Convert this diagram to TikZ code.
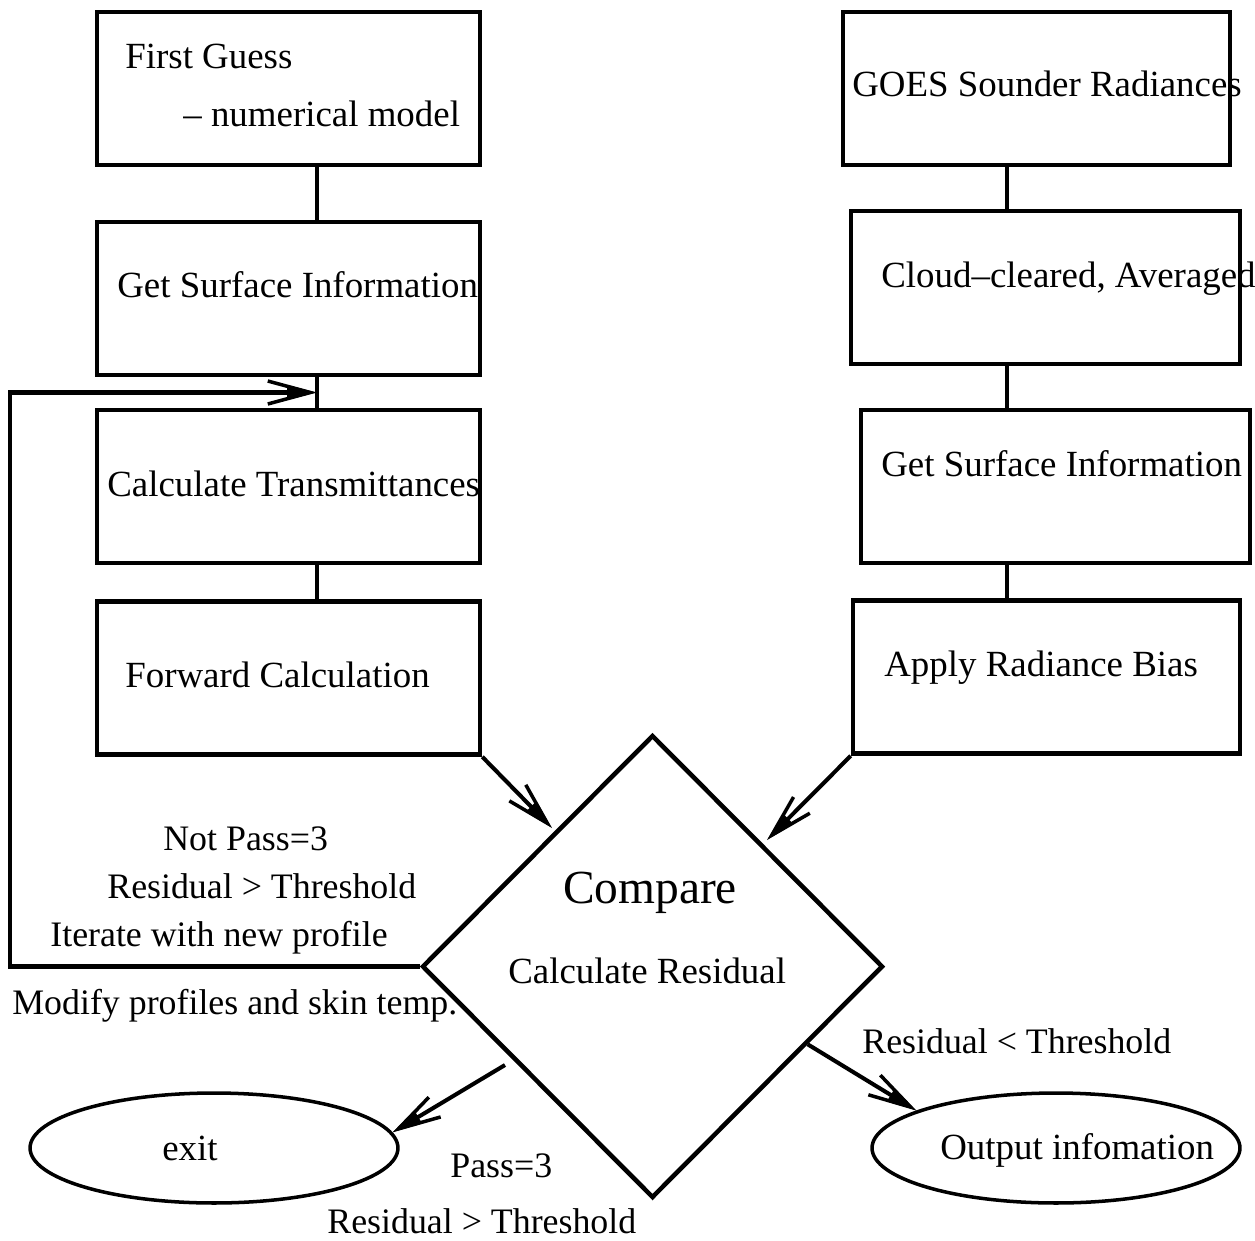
\documentclass[tikz,border=0pt]{standalone}
\usepackage{fontspec}
\setmainfont{Liberation Serif}
\usetikzlibrary{shapes.geometric,arrows.meta,calc}
\begin{document}
\begin{tikzpicture}[x=0.02cm,y=-0.02cm,
  box/.style={draw,line width=2.6pt,inner sep=0pt,minimum height=3.06cm},
  txt/.style={anchor=base west,inner sep=0pt,font=\fontsize{21}{24}\selectfont},
  lbl/.style={anchor=base west,inner sep=0pt,font=\fontsize{20.4}{24}\selectfont},
  conn/.style={line width=2.6pt},
  arr/.style={line width=2.3pt,-{Straight Barb[length=0.85cm,width=0.46cm,line width=2pt,sep=-0.6cm] Triangle[length=0.6cm,width=0.28cm]}},
  oval/.style={draw,ellipse,line width=2pt,inner sep=0pt,minimum width=7.36cm,minimum height=2.2cm},
]
\useasboundingbox (0,0) rectangle (1255,1241);
\coordinate (lx) at (317,0);
\coordinate (rx) at (1007,0);
\coordinate (lp) at (10,0);

% left column
\node[box,minimum width=7.66cm] (b1) at (288.5,88.5) {};
\node[box,minimum width=7.66cm] (b2) at (288.5,298.5) {};
\node[box,minimum width=7.66cm] (b3) at (288.5,486.5) {};
\node[box,minimum width=7.66cm] (b4) at (288.5,678) {};
% right column
\node[box,minimum width=7.74cm] (r1) at (1036.5,88.5) {};
\node[box,minimum width=7.78cm] (r2) at (1045.5,287.5) {};
\node[box,minimum width=7.78cm] (r3) at (1055.5,486.5) {};
\node[box,minimum width=7.74cm] (r4) at (1046.5,677) {};

% diamond and ovals
\node[draw,diamond,line width=2.6pt,inner sep=0pt,minimum width=9.22cm,minimum height=9.26cm] (dia) at (652.5,966.5) {};
\node[oval] (exit) at (214,1148) {};
\node[oval] (out) at (1056,1148) {};

% texts
\node[txt] (t1) at (125,68) {First Guess};
\node[txt] (t2) at (183,126) {– numerical model};
\node[txt] (t3) at (117,297) {Get Surface Information};
\node[txt] (t4) at (107,496) {Calculate Transmittances};
\node[txt] (t5) at (125,687) {Forward Calculation};
\node[txt] (t6) at (852,96) {GOES Sounder Radiances};
\node[txt] (t7) at (881,287) {Cloud–cleared, Averaged};
\node[txt] (t8) at (881,476) {Get Surface Information};
\node[txt] (t9) at (884,676) {Apply Radiance Bias};
\node[inner sep=0pt,font=\fontsize{27}{30}\selectfont] (t10) at (650,893) {Compare};
\node[txt] (t11) at (508,983) {Calculate Residual};
\node[lbl] (t12) at (163,850) {Not Pass=3};
\node[lbl] (t13) at (107,898) {Residual > Threshold};
\node[lbl] (t14) at (50,946) {Iterate with new profile};
\node[lbl] (t15) at (12,1014) {Modify profiles and skin temp.};
\node[lbl] (t16) at (862,1053) {Residual < Threshold};
\node[inner sep=0pt,font=\fontsize{21}{24}\selectfont] (t17) at (190,1148) {exit};
\node[txt] (t18) at (940,1159) {Output infomation};
\node[lbl] (t19) at (450,1177) {Pass=3};
\node[lbl] (t20) at (327,1233) {Residual > Threshold};

% connectors
\draw[conn] (b1.south -| lx) -- (b2.north -| lx);
\draw[conn] (b2.south -| lx) -- (b3.north -| lx);
\draw[conn] (b3.south -| lx) -- (b4.north -| lx);
\draw[conn] (r1.south -| rx) -- (r2.north -| rx);
\draw[conn] (r2.south -| rx) -- (r3.north -| rx);
\draw[conn] (r3.south -| rx) -- (r4.north -| rx);

\coordinate (mid) at ($(b2.south -| lx)!0.5!(b3.north -| lx)$);
\coordinate (tipL) at (552,828);
\coordinate (tipR) at (767,840);
\coordinate (exs) at (505,1065);

\draw[arr] (dia.west) -- (dia.west -| lp) |- (mid);
\draw[arr] (b4.south east) -- (tipL);
\draw[arr] (r4.south west) -- (tipR);
\draw[arr] (exs) -- (exit.5);
\draw[arr] ($(dia.east)!0.333!(dia.south)$) -- (out.165);
\end{tikzpicture}
\end{document}
